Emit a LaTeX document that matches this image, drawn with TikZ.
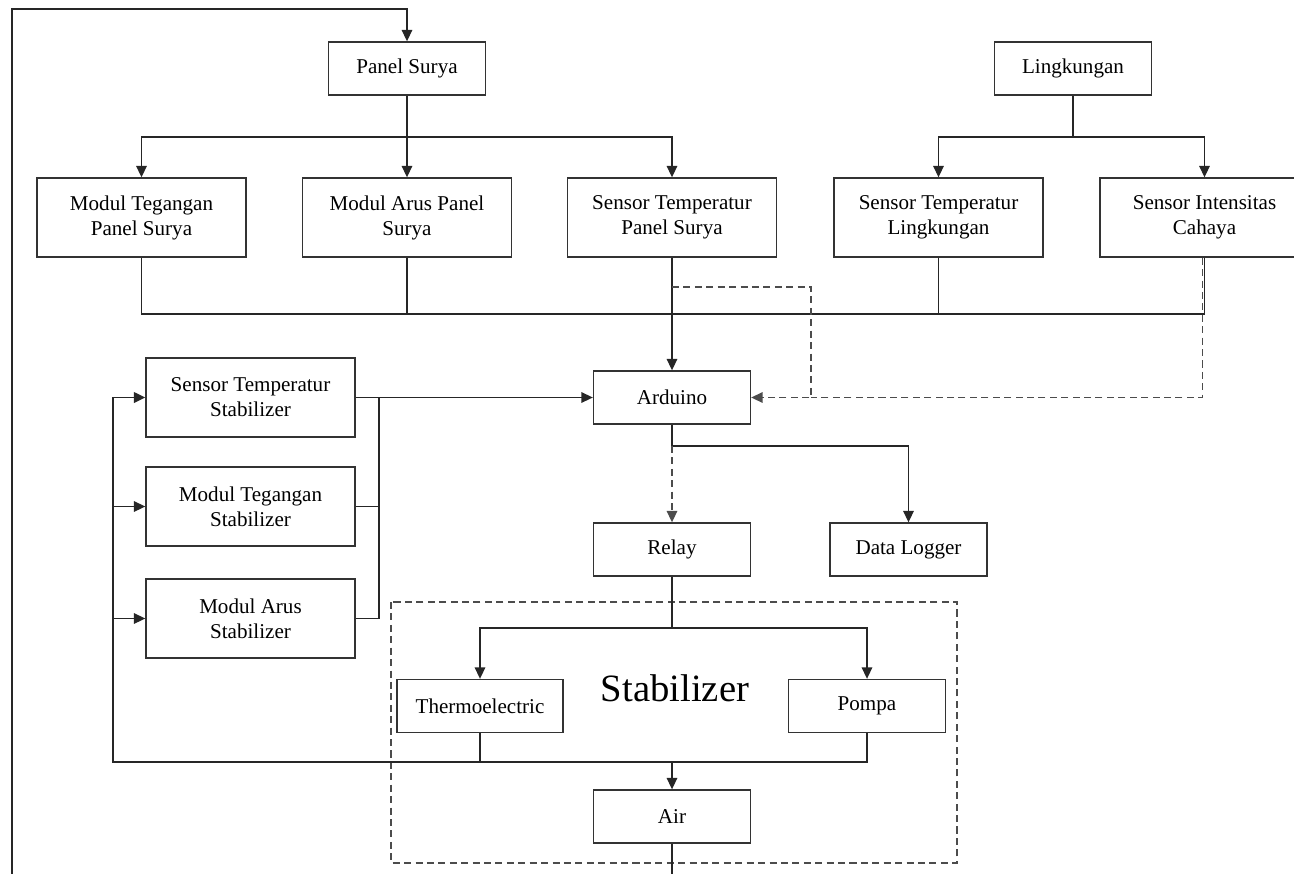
\documentclass[tikz,border=0pt]{standalone}
\usepackage{fontspec}
\setmainfont{Liberation Serif}
\usetikzlibrary{positioning, arrows.meta}

\begin{document}
\begin{tikzpicture}[x=0.02cm, y=-0.02cm,
    big_box/.style={draw=black!80, line width=0.8pt, fill=white, minimum width=4.18cm, minimum height=1.58cm, align=center, font=\fontsize{12}{14.2}\selectfont},
    small_box/.style={big_box, minimum width=3.14cm, minimum height=1.06cm},
    link_line/.style={line width=0.75pt, draw=black!85},
    arr_line/.style={link_line, -{Triangle[length=6.5pt, width=6pt]}},
    dash_line/.style={line width=0.75pt, draw=black!70, dash pattern=on 4pt off 2.5pt}
]
    \useasboundingbox (0,0) rectangle (1294,873);

    % Stabilizer boundary
    \draw [dash_line] (391,602) rectangle (957,863);
    \node (stab_label) [font=\fontsize{22}{26}\selectfont] at (675,688) {Stabilizer};

    % Top row
    \node (panel) [small_box] at (407,68.5) {Panel Surya};
    \node (lingk) [small_box] at (1073,68.5) {Lingkungan};

    % Sensors and modules
    \node (mtp) [big_box] at (141.5,217.5) {Modul Tegangan\\Panel Surya};
    \node (map) [big_box] at (407,217.5) {Modul Arus Panel\\Surya};
    \node (stp) [big_box] at (672,217.5) {Sensor Temperatur\\Panel Surya};
    \node (stl) [big_box] at (938.5,217.5) {Sensor Temperatur\\Lingkungan};
    \node (sil) [big_box] at (1204.5,217.5) {Sensor Intensitas\\Cahaya};

    \node (arduino) [small_box] at (672,397.5) {Arduino};

    \node (sts) [big_box] at (250.5,397.5) {Sensor Temperatur\\Stabilizer};
    \node (mts) [big_box] at (250.5,506.5) {Modul Tegangan\\Stabilizer};
    \node (mas) [big_box] at (250.5,618.5) {Modul Arus\\Stabilizer};

    \node (relay) [small_box] at (672,549.5) {Relay};
    \node (logger) [small_box] at (908.5,549.5) {Data Logger};

    \node (thermo) [small_box, minimum width=3.32cm] at (480,706) {Thermoelectric};
    \node (pompa) [small_box] at (867,706) {Pompa};
    \node (air) [small_box] at (672,816.5) {Air};

    % Panel Surya branches
    \coordinate (ps_split) at (407,137);
    \draw [link_line] (panel.south) -- (ps_split);
    \draw [arr_line] (ps_split) -| (mtp.north);
    \draw [arr_line] (ps_split) -- (map.north);
    \draw [arr_line] (ps_split) -| (stp.north);

    % Lingkungan branches
    \coordinate (lk_split) at (1073,137);
    \draw [link_line] (lingk.south) -- (lk_split);
    \draw [arr_line] (lk_split) -| (stl.north);
    \draw [arr_line] (lk_split) -| (sil.north);

    % Bus to Arduino
    \coordinate (bus) at (672,314);
    \draw [link_line] (mtp.south) |- (bus);
    \draw [link_line] (map.south) -- (map.south |- bus);
    \draw [link_line] (stl.south) -- (stl.south |- bus);
    \draw [link_line] (sil.south) |- (bus);
    \draw [arr_line] (stp.south) -- (arduino.north);

    % Dashed feedback into Arduino
    \coordinate (dash_tap) at (672,287);
    \coordinate (dash_turn) at (811,397.5);
    \draw [dash_line] ([xshift=-0.04cm]sil.south) |- (dash_turn);
    \draw [dash_line, -{Triangle[length=6.5pt, width=6pt]}] (dash_tap) -| (dash_turn) -- (arduino.east);

    % Stabilizer sensors to Arduino
    \coordinate (coll) at (379,397.5);
    \draw [arr_line] (sts.east) -- (arduino.west);
    \draw [link_line] (mts.east) -| (coll);
    \draw [link_line] (mas.east) -| (coll);

    % Arduino outputs
    \coordinate (ard_split) at (672,446);
    \draw [link_line] (arduino.south) -- (ard_split);
    \draw [arr_line] (ard_split) -| (logger.north);
    \draw [dash_line, -{Triangle[length=6.5pt, width=6pt]}] (ard_split) -- (relay.north);

    % Relay to actuators
    \coordinate (relay_split) at (672,628);
    \draw [link_line] (relay.south) -- (relay_split);
    \draw [arr_line] (relay_split) -| (thermo.north);
    \draw [arr_line] (relay_split) -| (pompa.north);

    % Actuators to Air
    \coordinate (join) at (672,762);
    \draw [link_line] (thermo.south) |- (join);
    \draw [link_line] (pompa.south) |- (join);
    \draw [arr_line] (join) -- (air.north);

    % Feedback to stabilizer sensors
    \coordinate (fb) at (113,762);
    \draw [arr_line, line width=1.1pt] (thermo.south) |- (fb) |- (sts.west);
    \draw [arr_line] (fb |- mts.west) -- (mts.west);
    \draw [arr_line] (fb |- mas.west) -- (mas.west);

    % Loop back to Panel Surya
    \coordinate (loop_bl) at (12,900);
    \coordinate (loop_tl) at (12,9);
    \draw [arr_line] (air.south) |- (loop_bl) -- (loop_tl) -| (panel.north);
\end{tikzpicture}
\end{document}
